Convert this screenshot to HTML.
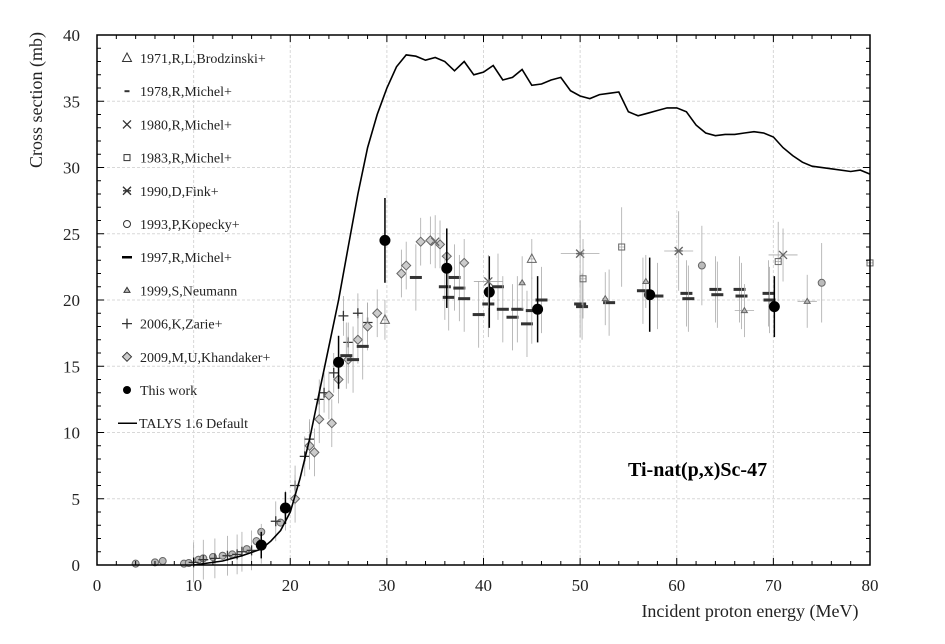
<!DOCTYPE html>
<html><head><meta charset="utf-8"><style>
body{margin:0;background:#fff;}
svg text{font-family:"Liberation Serif",serif;}
</style></head><body>
<svg id="s" width="945" height="639" xmlns="http://www.w3.org/2000/svg">
<g id="grid" stroke="#d8d8d8" stroke-width="1" stroke-dasharray="3,2"></g>
<g id="data"></g>
<polyline id="talys" fill="none" stroke="#000" stroke-width="1.6"/>
<rect x="97" y="35" width="773" height="530" fill="none" stroke="#000" stroke-width="1.5"/>
<g id="ticks" stroke="#000" stroke-width="1"></g>
<g id="labels" font-size="17" fill="#222"></g>
<text x="750" y="617" font-size="18" text-anchor="middle" fill="#222">Incident proton energy (MeV)</text>
<text transform="translate(42,100) rotate(-90)" font-size="18" text-anchor="middle" fill="#222">Cross section (mb)</text>
<text x="628" y="476" font-size="20" font-weight="bold" fill="#000">Ti-nat(p,x)Sc-47</text>
<g id="legend" font-size="14" fill="#222"></g>
</svg>
<script>
const NS="http://www.w3.org/2000/svg";
const X=e=>97+e*9.6625, Y=v=>565-v*13.25;
function el(p,t,a){const e=document.createElementNS(NS,t);for(const k in a)e.setAttribute(k,a[k]);p.appendChild(e);return e;}
const grid=document.getElementById('grid'),ticks=document.getElementById('ticks'),labels=document.getElementById('labels');
for(let e=10;e<80;e+=10)el(grid,'line',{x1:X(e),x2:X(e),y1:35,y2:565});
for(let v=5;v<40;v+=5)el(grid,'line',{x1:97,x2:870,y1:Y(v),y2:Y(v)});
for(let e=0;e<=80;e+=2){const L=e%10==0?7:4;el(ticks,'line',{x1:X(e),x2:X(e),y1:565,y2:565-L});el(ticks,'line',{x1:X(e),x2:X(e),y1:35,y2:35+L});}
for(let v=0;v<=40;v+=1){const L=v%5==0?7:4;el(ticks,'line',{x1:97,x2:97+L,y1:Y(v),y2:Y(v)});el(ticks,'line',{x1:870,x2:870-L,y1:Y(v),y2:Y(v)});}
for(let e=0;e<=80;e+=10){const t=el(labels,'text',{x:X(e),y:591,'text-anchor':'middle'});t.textContent=e;}
for(let v=0;v<=40;v+=5){const t=el(labels,'text',{x:80,y:Y(v)+6,'text-anchor':'end'});t.textContent=v;}
const T=[[10,0],[13,0.3],[15,0.7],[17,1.2],[18,1.8],[19,2.6],[20,4],[21,6.5],[22,9.5],[23,13],[24,16.5],[25,20],[26,24],[27,28],[28,31.5],[29,34],[30,36],[31,37.6],[32,38.5],[33,38.4],[34,38.1],[35,38.3],[36,38],[37,37.3],[38,38],[39,37],[40,37.2],[41,37.7],[42,36.6],[43,36.8],[44,37.4],[45,36.2],[46,36.3],[47,36.6],[48,36.8],[49,35.8],[50,35.4],[51,35.2],[52,35.5],[53,35.6],[54,35.7],[55,34.2],[56,33.9],[57,34.1],[58,34.3],[59,34.5],[60,34.5],[61,34.2],[62,33.2],[63,32.6],[64,32.4],[65,32.5],[66,32.5],[67,32.6],[68,32.7],[69,32.6],[70,32.3],[71,31.5],[72,30.9],[73,30.4],[74,30.1],[76,29.9],[78,29.7],[79,29.8],[80,29.5]];
document.getElementById('talys').setAttribute('points',T.map(p=>X(p[0]).toFixed(1)+','+Y(p[1]).toFixed(1)).join(' '));
const D=document.getElementById('data');
function mk(t,x,y,c){c=c||'#666';
 if(t=='tri')el(D,'polygon',{points:`${x},${y-5} ${x-4.5},${y+3.5} ${x+4.5},${y+3.5}`,fill:'none',stroke:c});
 else if(t=='dash')el(D,'rect',{x:x-4,y:y-1.5,width:8,height:3,fill:c});
 else if(t=='x'){el(D,'path',{d:`M${x-4} ${y-4}L${x+4} ${y+4}M${x-4} ${y+4}L${x+4} ${y-4}`,stroke:c,'stroke-width':1.3});}
 else if(t=='sq')el(D,'rect',{x:x-3,y:y-3,width:6,height:6,fill:'none',stroke:c});
 else if(t=='ast'){el(D,'path',{d:`M${x-4} ${y-4}L${x+4} ${y+4}M${x-4} ${y+4}L${x+4} ${y-4}M${x-4} ${y}L${x+4} ${y}`,stroke:c,'stroke-width':1.4});}
 else if(t=='circ')el(D,'circle',{cx:x,cy:y,r:3.5,fill:'#bbb',stroke:c});
 else if(t=='bar')el(D,'rect',{x:x-6,y:y-1.5,width:12,height:3,fill:'#333'});
 else if(t=='stri')el(D,'polygon',{points:`${x},${y-3} ${x-3},${y+2} ${x+3},${y+2}`,fill:'#bbb',stroke:c});
 else if(t=='plus')el(D,'path',{d:`M${x-5} ${y}L${x+5} ${y}M${x} ${y-5}L${x} ${y+5}`,stroke:'#333','stroke-width':1.3});
 else if(t=='dia')el(D,'polygon',{points:`${x},${y-4.5} ${x+4.5},${y} ${x},${y+4.5} ${x-4.5},${y}`,fill:'#ccc',stroke:c});
 else if(t=='dot')el(D,'circle',{cx:x,cy:y,r:5.5,fill:'#000'});
}
function pt(t,e,v,ey,ex){const x=X(e),y=Y(v);ey=ey||1.5;ex=ex||0.3;const c=t=='dot'?'#000':'#aaa';
 el(D,'line',{x1:x,x2:x,y1:Y(v-ey),y2:Y(v+ey),stroke:c,'stroke-width':t=='dot'?1.5:0.8});
 el(D,'line',{x1:X(e-ex),x2:X(e+ex),y1:y,y2:y,stroke:c,'stroke-width':0.8});
 mk(t,x,y);}
[[4,0.1],[6,0.2],[6.8,0.3],[9,0.1],[9.5,0.15],[10.5,0.4],[11,0.5],[12,0.6],[13,0.7],[14,0.8],[15.5,1.2],[16.5,1.8],[17,2.5],[19,3.2]].forEach(p=>pt('circ',p[0],p[1],0.3));
[[10,0.2],[11,0.4],[12.2,0.5],[13.5,0.7],[14.5,0.8],[15,1],[16,1.1],[17,1.6],[18.5,3.3],[19.5,4.1],[20.5,6],[21.5,8.2],[22,9.5],[23,12.5],[23.5,13],[24.5,14.5],[26,16.8],[25.5,18.8],[27,19],[28,18.3]].forEach(p=>pt('plus',p[0],p[1],1.5,0.5));
[[20.5,5],[22,9],[23,11],[24,12.8],[25,14],[26,15.5],[27,17],[28,18],[29,19],[31.5,22],[32,22.6],[33.5,24.4],[34.5,24.5],[35.5,24.2],[36.2,23.3],[38,22.8],[22.5,8.5],[24.3,10.7]].forEach(p=>pt('dia',p[0],p[1],1.8));
[[25.8,15.8,0.6],[26.5,15.5],[27.5,16.5],[33,21.7],[36,21],[36.4,20.2],[37,21.7],[37.5,20.9],[38,20.1],[39.5,18.9],[40.5,19.7],[41.5,21],[42,19.3],[43,18.7],[43.5,19.3],[44.5,18.2],[45,19.2],[46,20],[50,19.7],[50.2,19.5],[53,19.8],[56.5,20.7],[58,20.3],[61,20.5],[61.2,20.1],[64,20.8],[64.2,20.4],[66.5,20.8],[66.7,20.3],[69.5,20.5],[69.6,20]].forEach(p=>pt('bar',p[0],p[1],2.5,0.3));
pt('dot',17,1.5,1);pt('dot',19.5,4.3,1.2);pt('dot',25,15.3,2);pt('dot',29.8,24.5,3.2);pt('dot',36.2,22.4,3);pt('dot',40.6,20.6,2.7);pt('dot',45.6,19.3,2.5);pt('dot',57.2,20.4,2.8);pt('dot',70.1,19.5,2.3);
pt('tri',29.8,18.5,0);pt('tri',45,23.1,0);pt('stri',44,21.3,2);pt('stri',52.6,20.1,2);pt('stri',56.8,21.4,2);pt('stri',67,19.2,2,1);pt('stri',73.5,19.9,2,1);
pt('x',35,24.4,2);pt('x',40.5,21.4,2,1.5);pt('ast',50,23.5,2.5,2);pt('ast',60.2,23.7,3,1.5);pt('x',71,23.4,2,1.5);
pt('sq',50.3,21.6,3);pt('sq',54.3,24,3);pt('sq',70.5,22.9,3);pt('circ',62.6,22.6,3);pt('circ',75,21.3,3);pt('sq',80,22.8,2);
const lg=document.getElementById('legend');
const items=[['tri','1971,R,L,Brodzinski+'],['dash','1978,R,Michel+'],['x','1980,R,Michel+'],['sq','1983,R,Michel+'],['ast','1990,D,Fink+'],['o','1993,P,Kopecky+'],['bar','1997,R,Michel+'],['stri','1999,S,Neumann'],['plus','2006,K,Zarie+'],['dia','2009,M,U,Khandaker+'],['dot','This work'],['line','TALYS 1.6 Default']];
items.forEach((it,i)=>{const y=58+i*33.2,x=127;
 if(it[0]=='line')el(lg,'line',{x1:118,x2:137,y1:y,y2:y,stroke:'#000','stroke-width':1.5});
 else if(it[0]=='o')el(lg,'circle',{cx:x,cy:y,r:3.5,fill:'none',stroke:'#333'});
 else if(it[0]=='dot')el(lg,'circle',{cx:x,cy:y,r:4,fill:'#000'});
 else if(it[0]=='bar')el(lg,'rect',{x:x-5,y:y-1.2,width:10,height:2.5,fill:'#000'});
 else if(it[0]=='dash')el(lg,'rect',{x:x-2.5,y:y-1,width:5,height:2,fill:'#333'});
 else {mk(it[0],x,y,'#333');lg.appendChild(D.lastChild);}
 const t=el(lg,'text',{x:it[0]=='line'?139:140,y:y+5});t.textContent=it[1];});
</script>
</body></html>
